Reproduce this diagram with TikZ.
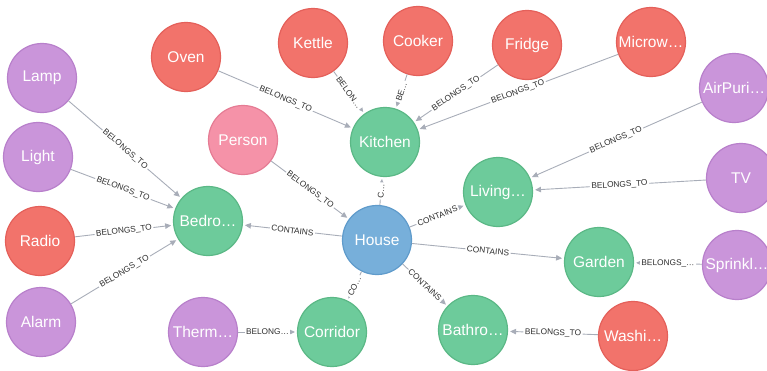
\documentclass[tikz,border=0pt]{standalone}
\usepackage{fontspec}
\setmainfont{Liberation Sans}
\usetikzlibrary{arrows.meta}

% palette
\definecolor{redfill}{HTML}{F2736B}
\definecolor{redline}{HTML}{E4605A}
\definecolor{purfill}{HTML}{CA95DA}
\definecolor{purline}{HTML}{B880CB}
\definecolor{grnfill}{HTML}{6DCB9B}
\definecolor{grnline}{HTML}{5BB886}
\definecolor{bluefill}{HTML}{77AFDA}
\definecolor{blueline}{HTML}{5F9BCB}
\definecolor{pinkfill}{HTML}{F592A8}
\definecolor{pinkline}{HTML}{E57C94}
\definecolor{edgegray}{HTML}{A8ADB8}
\definecolor{labelgray}{HTML}{2E2E2E}

\tikzset{
  ent/.style={circle, minimum size=69pt, inner sep=0pt, line width=1.2pt,
              text=white, font=\fontsize{15.5}{18}\selectfont},
  redent/.style={ent, fill=redfill, draw=redline},
  purent/.style={ent, fill=purfill, draw=purline},
  grnent/.style={ent, fill=grnfill, draw=grnline},
  blueent/.style={ent, fill=bluefill, draw=blueline},
  pinkent/.style={ent, fill=pinkfill, draw=pinkline},
  rel/.style={draw=edgegray, line width=0.9pt,
              -{Triangle[length=6pt,width=5.5pt]}, shorten >=2pt},
  rlabel/.style={midway, sloped, fill=white, inner sep=1.5pt, text=labelgray,
                 font=\fontsize{8.3}{9}\selectfont}
}

\begin{document}
\begin{tikzpicture}[x=1pt,y=-1pt]
\useasboundingbox (0,0) rectangle (767,370);
\clip (0,0) rectangle (767,370);

% rooms and house
\node[blueent] (house)    at (377,240) {House};
\node[grnent]  (kitchen)  at (385,142) {Kitchen};
\node[grnent]  (bedroom)  at (208,221) {Bedro…};
\node[grnent]  (living)   at (498,192) {Living…};
\node[grnent]  (garden)   at (599,262) {Garden};
\node[grnent]  (bathroom) at (473,330) {Bathro…};
\node[grnent]  (corridor) at (332,332) {Corridor};

% people
\node[pinkent] (person) at (243,140) {Person};

% appliances
\node[redent] (oven)      at (186,57)  {Oven};
\node[redent] (kettle)    at (313,43)  {Kettle};
\node[redent] (cooker)    at (418,41)  {Cooker};
\node[redent] (fridge)    at (527,45)  {Fridge};
\node[redent] (microwave) at (651,42)  {Microw…};
\node[redent] (radio)     at (40,241)  {Radio};
\node[redent] (washer)    at (633,336) {Washi…};

% devices
\node[purent] (lamp)      at (42,78)   {Lamp};
\node[purent] (light)     at (38,157)  {Light};
\node[purent] (alarm)     at (41,322)  {Alarm};
\node[purent] (airpur)    at (734,88)  {AirPuri…};
\node[purent] (tv)        at (741,178) {TV};
\node[purent] (sprinkler) at (737,265) {Sprinkl…};
\node[purent] (thermo)    at (203,332) {Therm…};

% kitchen
\draw[rel] (oven)      -- node[rlabel] {BELONGS\_TO} (kitchen);
\draw[rel] (kettle)    -- node[rlabel] {BELON…} (kitchen);
\draw[rel] (cooker)    -- node[rlabel] {BE…} (kitchen);
\draw[rel] (fridge)    -- node[rlabel] {BELONGS\_TO} (kitchen);
\draw[rel] (microwave) -- node[rlabel] {BELONGS\_TO} (kitchen);

% bedroom
\draw[rel] (lamp)  -- node[rlabel] {BELONGS\_TO} (bedroom);
\draw[rel] (light) -- node[rlabel] {BELONGS\_TO} (bedroom);
\draw[rel] (radio) -- node[rlabel] {BELONGS\_TO} (bedroom);
\draw[rel] (alarm) -- node[rlabel] {BELONGS\_TO} (bedroom);

% living room
\draw[rel] (airpur) -- node[rlabel] {BELONGS\_TO} (living);
\draw[rel] (tv)     -- node[rlabel] {BELONGS\_TO} (living);

% other rooms
\draw[rel] (sprinkler) -- node[rlabel] {BELONGS\_…} (garden);
\draw[rel] (washer)    -- node[rlabel] {BELONGS\_TO} (bathroom);
\draw[rel] (thermo)    -- node[rlabel] {BELONG…} (corridor);

% house
\draw[rel] (person) -- node[rlabel] {BELONGS\_TO} (house);
\draw[rel] (house)  -- node[rlabel] {C…} (kitchen);
\draw[rel] (house)  -- node[rlabel] {CONTAINS} (bedroom);
\draw[rel] (house)  -- node[rlabel] {CONTAINS} (living);
\draw[rel] (house)  -- node[rlabel] {CONTAINS} (garden);
\draw[rel] (house)  -- node[rlabel] {CONTAINS} (bathroom);
\draw[rel] (house)  -- node[rlabel] {CO…} (corridor);
\end{tikzpicture}
\end{document}
